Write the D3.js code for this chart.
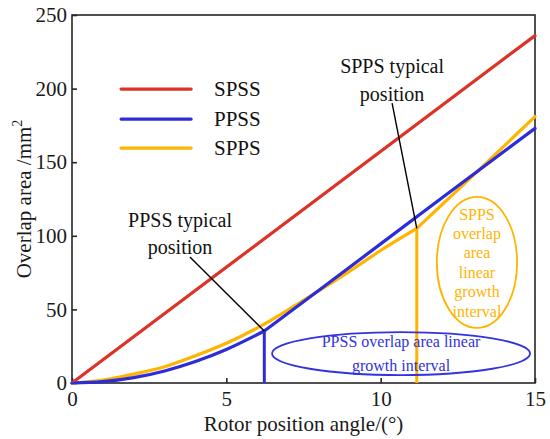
<!DOCTYPE html>
<html>
<head>
<meta charset="utf-8">
<script src="https://cdn.jsdelivr.net/npm/d3@7"></script>
<style>
    body { margin: 0; background: #fff; }
    text { font-family: "Liberation Serif", "Times New Roman", serif; }
</style>
</head>
<body>
<div id="chart"></div>
<script>
// values
const xTicks = [0, 5, 10, 15];
const yTicks = [0, 50, 100, 150, 200, 250];

const spssAngle = [0, 15];
const spssArea = [0, 236];

const ppssAngle = [0, 1, 2, 3, 4, 5, 6.23, 8, 10, 12, 15];
const ppssArea = [0, 0.9, 3.6, 8.2, 14.6, 22.8, 35.3, 63, 94.5, 126, 173];

const sppsAngle = [0, 1, 2, 3, 4, 5, 6.23, 7.6, 9, 10, 11.17, 13, 15];
const sppsArea = [0, 2, 6, 11, 18.5, 27, 40, 57.5, 76, 90, 105, 141, 181];

const ppssTypical = 6.23;
const sppsTypical = 11.17;

const seriesNames = ['SPSS', 'PPSS', 'SPPS'];
const colors = { SPSS: '#dc3326', PPSS: '#2c2cd8', SPPS: '#ffb400' };

const W = 550, H = 439;
const margin = { top: 15, right: 15, bottom: 56, left: 72 };
const width = W - margin.left - margin.right;
const height = H - margin.top - margin.bottom;

const svg = d3.select('#chart').append('svg')
    .attr('width', W)
    .attr('height', H);

const g = svg.append('g')
    .attr('transform', `translate(${margin.left},${margin.top})`);

const x = d3.scaleLinear().domain([0, 15]).range([0, width]);
const y = d3.scaleLinear().domain([0, 250]).range([height, 0]);

// box
g.append('rect')
    .attr('width', width)
    .attr('height', height)
    .attr('fill', 'none')
    .attr('stroke', '#262626')
    .attr('stroke-width', 1.6);

// axes with inward ticks
const xAxis = g.append('g')
    .attr('transform', `translate(0,${height})`)
    .call(d3.axisBottom(x).tickValues(xTicks).tickSizeInner(-5).tickSizeOuter(0).tickPadding(8));
const yAxis = g.append('g')
    .call(d3.axisLeft(y).tickValues(yTicks).tickSizeInner(-5).tickSizeOuter(0).tickPadding(5));

[xAxis, yAxis].forEach(a => {
    a.select('.domain').remove();
    a.selectAll('line').attr('stroke', '#262626').attr('stroke-width', 1.6);
    a.selectAll('text')
        .attr('fill', '#1a1a1a')
        .style('font-family', '"Liberation Serif", "Times New Roman", serif')
        .style('font-size', '21px');
});

// axis titles
svg.append('text')
    .attr('x', margin.left + width / 2)
    .attr('y', 431)
    .attr('text-anchor', 'middle')
    .attr('font-size', 21)
    .attr('fill', '#1a1a1a')
    .text('Rotor position angle/(°)');

const yTitle = svg.append('text')
    .attr('transform', `translate(31,${margin.top + height / 2}) rotate(-90)`)
    .attr('text-anchor', 'middle')
    .attr('font-size', 21)
    .attr('fill', '#1a1a1a');
yTitle.append('tspan').text('Overlap area /mm');
yTitle.append('tspan').attr('dy', -9).attr('font-size', 14).text('2');

// series
const toPoints = (xs, ys) => xs.map((v, i) => [v, ys[i]]);
const curved = d3.line().x(d => x(d[0])).y(d => y(d[1])).curve(d3.curveMonotoneX);
const straight = d3.line().x(d => x(d[0])).y(d => y(d[1]));

function drawSeries(points, kink, color) {
    const before = kink == null ? points : points.filter(d => d[0] <= kink);
    const after = kink == null ? [] : points.filter(d => d[0] >= kink);
    [[before, curved], [after, straight]].forEach(([pts, gen]) => {
        if (pts.length < 2) return;
        g.append('path')
            .attr('d', gen(pts))
            .attr('fill', 'none')
            .attr('stroke', color)
            .attr('stroke-width', 3.2)
            .attr('stroke-linecap', 'round')
            .attr('stroke-linejoin', 'round');
    });
}

const spss = toPoints(spssAngle, spssArea);
const ppss = toPoints(ppssAngle, ppssArea);
const spps = toPoints(sppsAngle, sppsArea);

drawSeries(spss, null, colors.SPSS);
drawSeries(spps, sppsTypical, colors.SPPS);
drawSeries(ppss, ppssTypical, colors.PPSS);

// typical position markers
const areaAt = (pts, a) => pts.find(d => d[0] === a)[1];
[[ppss, ppssTypical, colors.PPSS], [spps, sppsTypical, colors.SPPS]].forEach(([pts, a, c]) => {
    g.append('line')
        .attr('x1', x(a)).attr('x2', x(a))
        .attr('y1', y(areaAt(pts, a))).attr('y2', y(0))
        .attr('stroke', c)
        .attr('stroke-width', 3);
});

// legend
const legendY = [199.7, 179.3, 159.6];
seriesNames.forEach((name, i) => {
    g.append('line')
        .attr('x1', x(1.59)).attr('x2', x(3.86))
        .attr('y1', y(legendY[i])).attr('y2', y(legendY[i]))
        .attr('stroke', colors[name])
        .attr('stroke-width', 3.2)
        .attr('stroke-linecap', 'round');
    g.append('text')
        .attr('x', x(4.6))
        .attr('y', y(legendY[i]))
        .attr('dy', '0.35em')
        .attr('font-size', 21)
        .attr('fill', '#111')
        .text(name);
});

// callouts
function callout(lines, cx, baselines, from, to) {
    lines.forEach((t, i) => {
        g.append('text')
            .attr('x', x(cx))
            .attr('y', y(baselines[i]))
            .attr('text-anchor', 'middle')
            .attr('font-size', 20)
            .attr('fill', '#111')
            .text(t);
    });
    g.append('line')
        .attr('x1', x(from[0])).attr('y1', y(from[1]))
        .attr('x2', x(to[0])).attr('y2', y(to[1]))
        .attr('stroke', '#000')
        .attr('stroke-width', 1.4);
}
callout(['PPSS typical', 'position'], 3.5, [106, 87.6], [3.82, 85.6], [ppssTypical, areaAt(ppss, ppssTypical)]);
callout(['SPPS typical', 'position'], 10.37, [210.6, 191.6], [10.37, 190.2], [sppsTypical, areaAt(spps, sppsTypical)]);

// interval ellipses
function intervalNote(cx, cy, rx, ry, color, lines, lineGap) {
    g.append('ellipse')
        .attr('cx', x(cx)).attr('cy', y(cy))
        .attr('rx', x(rx) - x(0)).attr('ry', y(0) - y(ry))
        .attr('fill', 'none')
        .attr('stroke', color)
        .attr('stroke-width', 1.8);
    const t0 = y(cy) - (lines.length - 1) * lineGap / 2;
    lines.forEach((t, i) => {
        g.append('text')
            .attr('x', x(cx))
            .attr('y', t0 + i * lineGap)
            .attr('dy', '0.35em')
            .attr('text-anchor', 'middle')
            .attr('font-size', 16)
            .attr('fill', color)
            .text(t);
    });
}
intervalNote(10.66, 20.0, 4.18, 14.6, '#3333dd', ['PPSS overlap area linear', 'growth interval'], 24);
intervalNote(13.12, 81.9, 1.3, 44.5, '#ffb400', ['SPPS', 'overlap', 'area', 'linear', 'growth', 'interval'], 19.4);
</script>
</body>
</html>
